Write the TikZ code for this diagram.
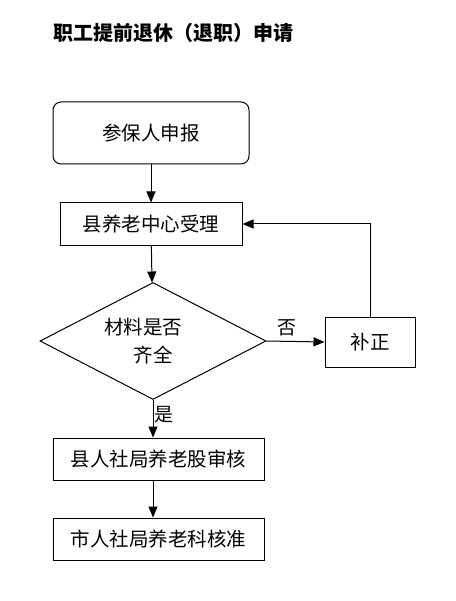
\documentclass[tikz,border=0pt]{standalone}
\usepackage{fontspec}
\setmainfont{Noto Sans CJK SC}
\usetikzlibrary{positioning,calc,arrows.meta,shapes.geometric}
\tikzstyle{stage} = [ draw, rectangle, line width = 1pt, inner sep = 0pt, font = \fontsize{19.5}{22}\selectfont ]
\tikzstyle{start} = [ stage, rounded corners = 8pt ]
\tikzstyle{check} = [ draw, diamond, aspect = 2, line width = 1pt, inner sep = 0pt, align = center, font = \fontsize{19.5}{28}\selectfont ]
\tikzstyle{edge} = [ -{Triangle[length=11pt,width=9pt]}, line width = 1pt ]
\tikzstyle{tag} = [ font = \fontsize{19}{22}\selectfont ]

\begin{document}
\begin{tikzpicture}[x=1pt, y=-1pt]
	\useasboundingbox ( 0, 0 ) rectangle ( 455, 601 );
	\node[anchor=west, font=\fontsize{20}{22}\selectfont\bfseries] (title) at ( 50, 33 ) { 职工提前退休（退职）申请 };

	\node[start, minimum width=196pt, minimum height=62pt] (apply) at ( 151, 133 ) { 参保人申报 };
	\node[stage, minimum width=182pt, minimum height=42pt] (accept) at ( 151, 224 ) { 县养老中心受理 };
	\node[check, minimum width=226pt, minimum height=117pt] (material) at ( 153, 341 ) { 材料是否\rule{20pt}{0pt}\\齐全 };
	\node[stage, minimum width=90pt, minimum height=50pt] (fix) at ( 370, 342 ) { 补正 };
	\node[stage, minimum width=211pt, minimum height=42pt] (review) at ( 158.5, 459 ) { 县人社局养老股审核 };
	\node[stage, minimum width=211pt, minimum height=42pt] (approve) at ( 158.5, 539 ) { 市人社局养老科核准 };

	\draw[edge](apply) -- (accept);
	\draw[edge](accept) -- (material);
	\draw[edge](material.east) -- (fix.west) node[tag, midway, above, xshift=-9pt, yshift=2pt]{ 否 };
	\draw[edge](fix.north) |- (accept.east);
	\draw[edge](material.south) -- (material.south |- review.north) node[tag, pos=0.4, anchor=west, xshift=-2pt]{ 是 };
	\draw[edge](material.south |- review.south) -- (material.south |- approve.north);
\end{tikzpicture}
\end{document}
